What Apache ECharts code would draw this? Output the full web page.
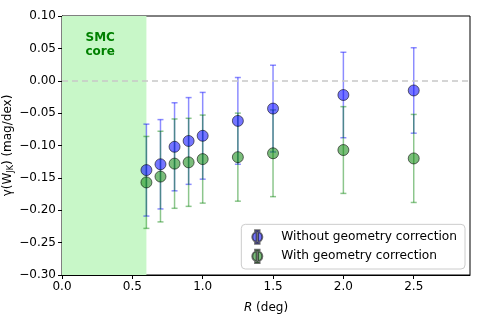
<!DOCTYPE html>
<html>
<head>
<meta charset="utf-8">
<script src="https://cdn.jsdelivr.net/npm/echarts@6/dist/echarts.min.js"></script>
<style>
  html, body { margin: 0; padding: 0; background: #fff; }
  #chart { width: 480px; height: 320px; }
</style>
</head>
<body>
<div id="chart"></div>
<script>
// radius of the bins (deg)
const radii = [0.6, 0.7, 0.8, 0.9, 1.0, 1.25, 1.5, 2.0, 2.5];

// gamma without geometry correction
const gammaRaw = [-0.138, -0.129, -0.102, -0.093, -0.085, -0.062, -0.043, -0.022, -0.015];
const errRaw = [0.071, 0.069, 0.068, 0.067, 0.067, 0.067, 0.067, 0.066, 0.066];

// gamma with geometry correction
const gammaGeo = [-0.157, -0.148, -0.128, -0.126, -0.121, -0.118, -0.112, -0.107, -0.120];
const errGeo = [0.071, 0.070, 0.069, 0.068, 0.068, 0.068, 0.067, 0.067, 0.068];

const coreEdge = 0.6;
const seriesNames = ['Without geometry correction', 'With geometry correction'];

const FONT = 'DejaVu Sans';
const fmtMinus = (v, d) => {
  if (Math.abs(v) < 1e-9) v = 0;
  return v.toFixed(d).replace('-', '\u2212');
};

// error bar drawn with the axes' own scale
function errorBarRenderer(color) {
  return function (params, api) {
    const x = api.value(0), y = api.value(1), e = api.value(2);
    const top = api.coord([x, y + e]);
    const bot = api.coord([x, y - e]);
    const cap = 3;
    const style = { stroke: color, lineWidth: 1.5, fill: null };
    return {
      type: 'group',
      children: [
        { type: 'line', shape: { x1: top[0], y1: top[1], x2: bot[0], y2: bot[1] }, style },
        { type: 'line', shape: { x1: top[0] - cap, y1: top[1], x2: top[0] + cap, y2: top[1] }, style },
        { type: 'line', shape: { x1: bot[0] - cap, y1: bot[1], x2: bot[0] + cap, y2: bot[1] }, style }
      ]
    };
  };
}

const chart = echarts.init(document.getElementById('chart'), null, { renderer: 'canvas' });

const legendIcon = 'path://M0.5,7a4.5,4.5 0 1,0 9,0a4.5,4.5 0 1,0 -9,0z M4.4,1h1.2v12h-1.2z M3,1h4v1h-4z M3,12h4v1h-4z';

chart.setOption({
  animation: false,
  backgroundColor: '#ffffff',
  textStyle: { fontFamily: FONT },
  grid: {
    left: 62, right: 10, top: 16, bottom: 45,
    outerBoundsMode: 'none',
    containLabel: false,
    show: true, borderColor: '#000', borderWidth: 1
  },
  legend: {
    data: seriesNames,
    orient: 'vertical',
    right: 15,
    bottom: 51,
    padding: [5, 8, 5, 10],
    itemGap: 4,
    itemWidth: 10,
    itemHeight: 14,
    icon: legendIcon,
    backgroundColor: '#ffffff',
    borderColor: '#cccccc',
    borderWidth: 1,
    borderRadius: 4,
    textStyle: { fontFamily: FONT, fontSize: 12.2, color: '#000', padding: [0, 0, 0, 14] }
  },
  xAxis: {
    type: 'value',
    min: 0,
    max: 2.9,
    interval: 0.5,
    name: '{i|R} (deg)',
    nameLocation: 'middle',
    nameGap: 27,
    nameMoveOverlap: false,
    nameTextStyle: {
      fontFamily: FONT, fontSize: 12, color: '#000',
      rich: { i: { fontFamily: FONT, fontSize: 12, fontStyle: 'italic', color: '#000' } }
    },
    splitLine: { show: false },
    axisLine: { onZero: false, lineStyle: { color: '#000', width: 1 } },
    axisTick: { length: 4, lineStyle: { color: '#000' } },
    axisLabel: {
      showMaxLabel: false, fontFamily: FONT, fontSize: 12, color: '#000', margin: 6,
      formatter: v => fmtMinus(v, 1)
    }
  },
  yAxis: {
    type: 'value',
    min: -0.3,
    max: 0.1,
    interval: 0.05,
    name: '{n|γ(W}{s|JK}{n|) (mag/dex)}',
    nameLocation: 'middle',
    nameRotate: 90,
    nameGap: 47,
    nameMoveOverlap: false,
    nameTextStyle: {
      color: '#000',
      rich: {
        n: { fontFamily: FONT, fontSize: 12, color: '#000' },
        s: { fontFamily: FONT, fontSize: 8, color: '#000', padding: [6, 0, 0, 0] }
      }
    },
    splitLine: { show: false },
    axisLine: { onZero: false, lineStyle: { color: '#000', width: 1 } },
    axisTick: { length: 4, lineStyle: { color: '#000' } },
    axisLabel: {
      fontFamily: FONT, fontSize: 12, color: '#000', margin: 6,
      formatter: v => fmtMinus(v, 2)
    }
  },
  series: [
    {
      name: 'errRaw',
      type: 'custom',
      renderItem: errorBarRenderer('rgba(0,0,255,0.45)'),
      encode: { x: 0, y: 1 },
      data: radii.map((r, i) => [r, gammaRaw[i], errRaw[i]]),
      z: 2,
      markArea: {
        silent: true,
        itemStyle: { color: '#c8f7c8' },
        label: {
          show: true,
          position: 'insideTop',
          distance: 15,
          offset: [-4, 0],
          formatter: 'SMC\ncore',
          color: '#008000',
          fontWeight: 'bold',
          fontFamily: FONT,
          fontSize: 12,
          lineHeight: 14
        },
        data: [[{ xAxis: 0 }, { xAxis: coreEdge }]]
      },
      markLine: {
        silent: true,
        symbol: 'none',
        label: { show: false },
        lineStyle: { color: '#c8c8c8', type: [6, 4], width: 1.5 },
        data: [{ yAxis: 0 }]
      }
    },
    {
      name: 'errGeo',
      type: 'custom',
      renderItem: errorBarRenderer('rgba(0,128,0,0.45)'),
      encode: { x: 0, y: 1 },
      data: radii.map((r, i) => [r, gammaGeo[i], errGeo[i]]),
      z: 3
    },
    {
      name: seriesNames[0],
      type: 'scatter',
      symbol: 'circle',
      symbolSize: 11,
      itemStyle: { color: 'rgba(0,0,255,0.68)', borderColor: 'rgba(0,0,0,0.7)', borderWidth: 1 },
      data: radii.map((r, i) => [r, gammaRaw[i]]),
      z: 4
    },
    {
      name: seriesNames[1],
      type: 'scatter',
      symbol: 'circle',
      symbolSize: 11,
      itemStyle: { color: 'rgba(0,128,0,0.65)', borderColor: 'rgba(0,0,0,0.7)', borderWidth: 1 },
      data: radii.map((r, i) => [r, gammaGeo[i]]),
      z: 5
    }
  ]
});
</script>
</body>
</html>
